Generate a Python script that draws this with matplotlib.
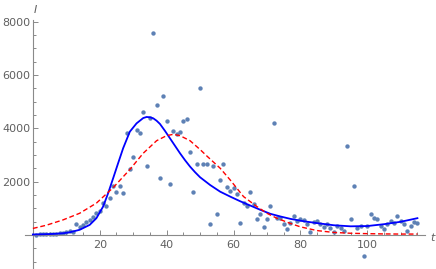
import matplotlib
matplotlib.use("Agg")
import matplotlib.pyplot as plt
import numpy as np

# daily observations I(t), t = 1..115
days = list(range(1, 116))
cases = [
    10, 15, 20, 25, 35, 40, 50, 60, 85, 110,
    160, 110, 390, 310, 375, 500, 540, 685, 810, 900,
    1210, 1085, 1400, 1850, 1610, 1850, 1560, 3830, 2460, 2930,
    3930, 3810, 4620, 2600, 4390, 7580, 4860, 2120, 5220, 4280,
    1900, 3900, 3780, 3870, 4280, 4340, 3120, 1620, 2660, 5490,
    2650, 2650, 390, 2570, 790, 2060, 2670, 1810, 1660, 1770,
    1535, 440, 1190, 1065, 1600, 1150, 600, 790, 290, 590,
    1100, 4180, 650, 650, 420, 210, 450, 710, 510, 600,
    560, 390, 100, 480, 525, 400, 310, 400, 250, 100,
    350, 275, 160, 3330, 590, 1835, 250, 350, -775, 350,
    775, 625, 590, 350, 210, 400, 525, 440, 720, 525,
    400, 150, 350, 475, 460,
]

# model fit (solid blue)
fit_t = [0, 3, 6, 9, 11, 14, 17, 19, 21, 22.5, 24, 25.5, 27, 29, 31, 33, 34,
         35, 36, 37, 38, 39.5, 41, 42.5, 44, 45.5, 47, 48.5, 50, 53, 56, 59,
         62, 65, 68, 71, 74, 77, 81, 85, 90, 95, 100, 105, 110, 115]
fit_i = [15, 22, 35, 60, 95, 190, 375, 625, 1060, 1560, 2120, 2690, 3250,
         3870, 4180, 4380, 4420, 4410, 4370, 4280, 4160, 3900, 3620, 3340,
         3060, 2800, 2560, 2350, 2160, 1870, 1620, 1435, 1260, 1100, 940, 790,
         690, 600, 510, 440, 360, 320, 330, 400, 490, 625]

# second fit (red dashed)
gauss_t = [0, 4, 9, 14, 19, 24, 29, 33, 37, 40, 42, 44, 47, 50, 52, 56, 59,
           63, 67, 70, 73, 77, 80, 85, 90, 95, 100, 105, 110, 115]
gauss_i = [240, 360, 560, 810, 1190, 1770, 2450, 3060, 3530, 3720, 3770,
           3720, 3530, 3200, 2960, 2500, 2060, 1435, 1060, 810, 620, 430, 300,
           160, 90, 60, 45, 35, 30, 30]

x_major = [20, 40, 60, 80, 100]
y_major = [2000, 4000, 6000, 8000]

axis_grey = "#8a8a8a"
text_grey = "#606060"

fig = plt.figure(figsize=(4.36, 2.69), dpi=100)
ax = fig.add_axes([0.057, 0.004, 0.918, 0.922])

ax.scatter(days, cases, s=10, color="#5e81b5", linewidths=0, zorder=2)
ax.plot(fit_t, fit_i, color="#0000ff", lw=1.3, zorder=3)
ax.plot(gauss_t, gauss_i, color="#ff0000", lw=1.0, dashes=(3.5, 2), zorder=3)

ax.set_xlim(-2.4, 117.3)
ax.set_ylim(-1240, 8060)

for side in ["top", "right"]:
    ax.spines[side].set_visible(False)
ax.spines["left"].set_position(("data", 0))
ax.spines["bottom"].set_position(("data", 0))
for side in ["left", "bottom"]:
    ax.spines[side].set_color(axis_grey)
    ax.spines[side].set_linewidth(0.8)

ax.set_xticks(x_major)
ax.set_xticks([v for v in range(5, 116, 5) if v not in x_major], minor=True)
ax.set_yticks(y_major)
ax.set_yticks([v for v in range(-1000, 8000, 500) if v not in y_major and v != 0],
              minor=True)
ax.tick_params(which="both", direction="in", color=axis_grey, width=0.7,
               labelcolor=text_grey, labelsize=8)
ax.tick_params(which="major", length=3.5)
ax.tick_params(which="minor", length=2)
ax.tick_params(axis="x", pad=4)
ax.tick_params(axis="y", pad=2)

ax.text(0.3, 8420, "I", style="italic", color=text_grey, fontsize=8,
        ha="left", va="center", clip_on=False)
ax.text(119.6, -120, "t", style="italic", color=text_grey, fontsize=8,
        ha="center", va="center", clip_on=False)

fig.savefig("out.png", dpi=100)
plt.close(fig)
